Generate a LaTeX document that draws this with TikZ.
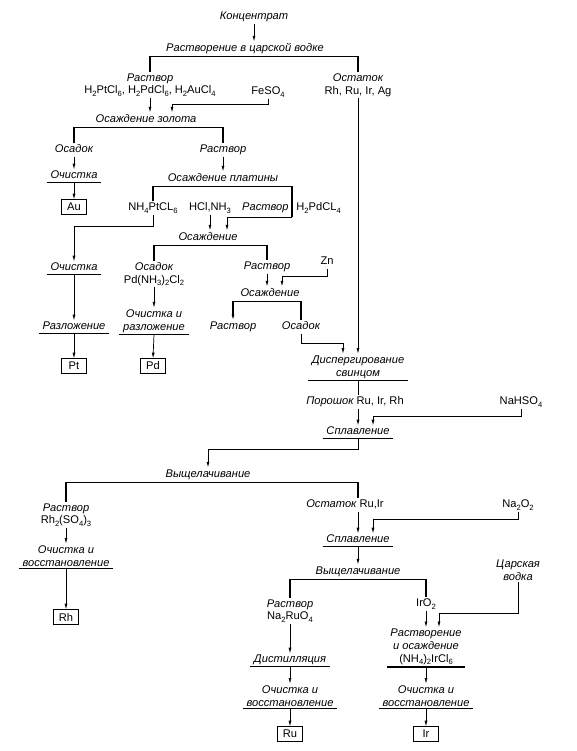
\documentclass[tikz,border=0pt]{standalone}
\usepackage{fontspec}
\setmainfont{Liberation Sans}
\usepackage{tikz}
\usetikzlibrary{arrows.meta,calc}
\newcommand{\fs}{\fontsize{9.5}{10.8}\selectfont}
\newcommand{\subn}[1]{\raisebox{-0.45ex}{\fontsize{6.5}{7}\selectfont #1}}
\tikzset{
  >={Latex[length=1.7mm,width=0.9mm]},
  lbl/.style={font=\fs\itshape, inner sep=1pt, text height=7pt, text depth=2pt},
  chem/.style={font=\fs, inner sep=1pt, text height=7pt, text depth=2pt},
  head/.style={lbl, text depth=3.5pt},
  proc/.style={lbl, inner xsep=3pt},
  multi/.style={font=\fs, align=center, inner sep=1pt},
  mproc/.style={multi, font=\fs\itshape, inner xsep=3pt, inner ysep=1.5pt},
  metal/.style={draw, font=\fs, line width=0.6pt, minimum width=21pt, minimum height=12.5pt, inner sep=1pt},
  bar/.style={line width=1.2pt},
  uline/.style={line width=1.2pt},
  link/.style={->, line width=0.6pt},
}
\begin{document}
\begin{tikzpicture}[x=0.03cm, y=-0.03cm]
  \useasboundingbox (0,0) rectangle (576,751);

  \node[lbl] (konc) at (254,17) {Концентрат};
  \node[head] (rastv) at (245,49) {Растворение в царской водке};
  \node[multi] (r1) at (150,85) {{\itshape Раствор}\\H\subn{2}PtCl\subn{6}, H\subn{2}PdCl\subn{6}, H\subn{2}AuCl\subn{4}};
  \node[multi] (ost1) at (358,85) {{\itshape Остаток}\\Rh, Ru, Ir, Ag};
  \node[chem] (feso) at (268,92) {FeSO\subn{4}};
  \node[head] (osz) at (146,120) {Осаждение золота};
  \node[lbl] (osad1) at (74,150) {Осадок};
  \node[lbl] (r2) at (223,150) {Раствор};
  \node[proc] (och1) at (74,176) {Очистка};
  \node[metal] (au) at (74,207) {Au};
  \node[head] (osplat) at (223,179) {Осаждение платины};
  \node[chem] (nhpt) at (153,208) {NH\subn{4}PtCL\subn{6}};
  \node[chem] (hcl) at (210,208) {HCl,NH\subn{3}};
  \node[lbl, anchor=east] (r3) at (290,208) {Раствор};
  \node[chem, anchor=west] (hpd) at (295,208) {H\subn{2}PdCL\subn{4}};
  \coordinate (pdsplit) at (292,217);
  \node[head] (ospd) at (208,238) {Осаждение};
  \node[proc] (och2) at (74,268) {Очистка};
  \node[multi] (osad2) at (154,274) {{\itshape Осадок}\\Pd(NH\subn{3})\subn{2}Cl\subn{2}};
  \node[lbl] (r4) at (267,267) {Раствор};
  \node[chem] (zn) at (327,262) {Zn};
  \node[head] (oszn) at (270,294) {Осаждение};
  \node[lbl] (r5) at (233,327) {Раствор};
  \node[lbl] (osad3) at (301,327) {Осадок};
  \node[proc] (razl) at (74,327) {Разложение};
  \node[mproc] (ochr) at (154,321) {Очистка и\\разложение};
  \node[metal] (pt) at (74,366) {Pt};
  \node[metal] (pd) at (153,366) {Pd};
  \node[mproc] (disp) at (358,367) {Диспергирование\\свинцом};
  \node[chem] (por) at (355,402) {{\itshape Порошок} Ru, Ir, Rh};
  \node[chem] (nahso) at (521,402) {NaHSO\subn{4}};
  \node[proc] (splav1) at (358,432) {Сплавление};
  \node[head] (vysh1) at (208,475) {Выщелачивание};
  \node[multi] (r6) at (66,515) {{\itshape Раствор}\\Rh\subn{2}(SO\subn{4})\subn{3}};
  \node[mproc] (ochv1) at (66,556) {Очистка и\\восстановление};
  \node[metal] (rh) at (66,617) {Rh};
  \node[chem] (ost2) at (345,505) {{\itshape Остаток} Ru,Ir};
  \node[chem] (na2o2) at (518,505) {Na\subn{2}O\subn{2}};
  \node[proc] (splav2) at (358,540) {Сплавление};
  \node[head] (vysh2) at (358,572) {Выщелачивание};
  \node[multi] (r7) at (290,611) {{\itshape Раствор}\\Na\subn{2}RuO\subn{4}};
  \node[chem] (iro2) at (426,604) {IrO\subn{2}};
  \node[multi, font=\fs\itshape] (tsar) at (518,570) {Царская\\водка};
  \node[mproc] (rastv2) at (426,647) {Растворение\\и осаждение\\{\upshape (NH\subn{4})\subn{2}IrCl\subn{6}}};
  \node[proc] (dist) at (290,660) {Дистилляция};
  \node[mproc] (ochv2) at (290,696) {Очистка и\\восстановление};
  \node[mproc] (ochv3) at (426,696) {Очистка и\\восстановление};
  \node[metal] (ru) at (290,734) {Ru};
  \node[metal] (ir) at (426,734) {Ir};

  \foreach \n in {och1,och2,razl,ochr,disp,splav1,ochv1,splav2,dist,ochv2,rastv2,ochv3}
    \draw[uline] (\n.south west) -- (\n.south east);

  \draw[link] (konc.south) -- (konc.south |- rastv.north);
  \draw[bar] (r1.north) |- (rastv.south) -| (ost1.north);
  \draw[link] (r1.south) -- (r1.south |- osz.north);
  \draw[link] (feso.south) -- ++(0,6) -| ($(osz.north)+(26,0)$);
  \draw[link] (ost1.south) -- (ost1.south |- disp.north);
  \draw[bar] (osad1.north) |- (osz.south) -| (r2.north);
  \draw[link] (osad1.south) -- (och1.north);
  \draw[link] (och1.south) -- (au.north);
  \draw[link] (r2.south) -- (osplat.north);
  \draw[bar] (nhpt.north) |- (osplat.south) -| (pdsplit);
  \draw[link] (pdsplit) -| ($(ospd.north)+(19,0)$);
  \draw[link] (hcl.south) -- (hcl.south |- ospd.north);
  \draw[link] (nhpt.south) -- ++(0,12) -| (och2.north);
  \draw[link] (och2.south) -- (razl.north);
  \draw[link] (razl.south) -- (pt.north);
  \draw[bar] (osad2.north) |- (ospd.south) -| (r4.north);
  \draw[link] (osad2.south) -- (ochr.north);
  \draw[link] (ochr.south) -- (pd.north);
  \draw[link] (r4.south) -- (r4.south |- oszn.north);
  \draw[link] (zn.south) -- ++(0,8) -| ($(oszn.north)+(12,0)$);
  \draw[bar,<-] (r5.north) |- (oszn.south) -| (osad3.north);
  \draw[link] (osad3.south) -- ++(0,10) -| ($(disp.north)+(-15,0)$);
  \draw[line width=0.6pt] (disp.south) -- (disp.south |- por.north);
  \draw[link] (splav1 |- por.south) -- (splav1.north);
  \draw[link] (nahso.south) -- ++(0,8) -| ($(splav1.north)+(15,0)$);
  \draw[link] (splav1.south) -- ++(0,11) -| (vysh1.north);
  \draw[bar] (r6.north) |- (vysh1.south) -| (splav2 |- ost2.north);
  \draw[link] (r6.south) -- (ochv1.north);
  \draw[link] (ochv1.south) -- (rh.north);
  \draw[link] (splav2 |- ost2.south) -- (splav2.north);
  \draw[link] (na2o2.south) -- ++(0,8) -| ($(splav2.north)+(15,0)$);
  \draw[link] (splav2.south) -- (vysh2.north);
  \draw[bar] (r7.north) |- (vysh2.south) -| (iro2.north);
  \draw[link] (r7.south) -- (dist.north);
  \draw[link] (dist.south) -- (ochv2.north);
  \draw[link] (ochv2.south) -- (ru.north);
  \draw[link] (iro2.south) -- (iro2.south |- rastv2.north);
  \draw[link] (tsar.south) -- ++(0,32) -| ($(rastv2.north)+(13,0)$);
  \draw[link] (rastv2.south) -- (ochv3.north);
  \draw[link] (ochv3.south) -- (ir.north);
\end{tikzpicture}
\end{document}
